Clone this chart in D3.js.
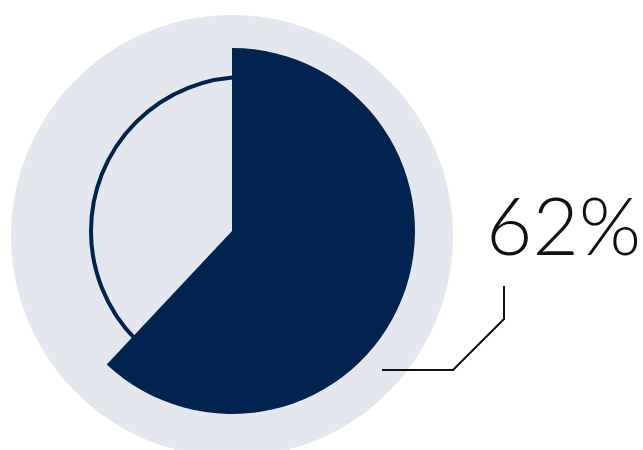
<!DOCTYPE html>
<html>
<head>
<meta charset="utf-8">
<script src="https://cdn.jsdelivr.net/npm/d3@7"></script>
<style>
  html, body { margin: 0; padding: 0; background: #fff; }
  svg { display: block; }
</style>
</head>
<body>
<svg width="643" height="450"></svg>
<script>
'use strict';

// data
var categories = ["share", "rest"];
var values = [62, 38];
var labels = ["62%"];

var svg = d3.select("svg"),
    cx = 232, cy = 231,
    outer = 183;

var navy = "#00234f",
    grey = "#e4e7ed";

// light backdrop disc
svg.append("circle")
    .attr("cx", 232)
    .attr("cy", 236)
    .attr("r", 221)
    .attr("fill", grey);

// thin outline for the remainder
svg.append("circle")
    .attr("cx", 245)
    .attr("cy", 231)
    .attr("r", 154)
    .attr("fill", "none")
    .attr("stroke", navy)
    .attr("stroke-width", 4);

var pie = d3.pie().sort(null).value(function(d) { return d; });
var arc = d3.arc().innerRadius(0).outerRadius(outer);

var g = svg.append("g")
    .attr("transform", "translate(" + cx + "," + cy + ")");

g.selectAll(".slice")
  .data(pie(values))
  .enter().append("path")
    .attr("class", "slice")
    .attr("d", arc)
    .attr("fill", function(d, i) { return i === 0 ? navy : "none"; });

// leader line
var leader = d3.line();
svg.append("path")
    .attr("d", leader([[382, 370], [453, 370], [504, 319], [504, 286]]))
    .attr("fill", "none")
    .attr("stroke", "#111")
    .attr("stroke-width", 2);

svg.append("text")
    .attr("x", 486)
    .attr("y", 255)
    .attr("font-family", "Lato, 'Open Sans', sans-serif")
    .attr("font-weight", 300)
    .attr("font-size", 80)
    .attr("fill", "#111")
    .text(labels[0]);
</script>
</body>
</html>
